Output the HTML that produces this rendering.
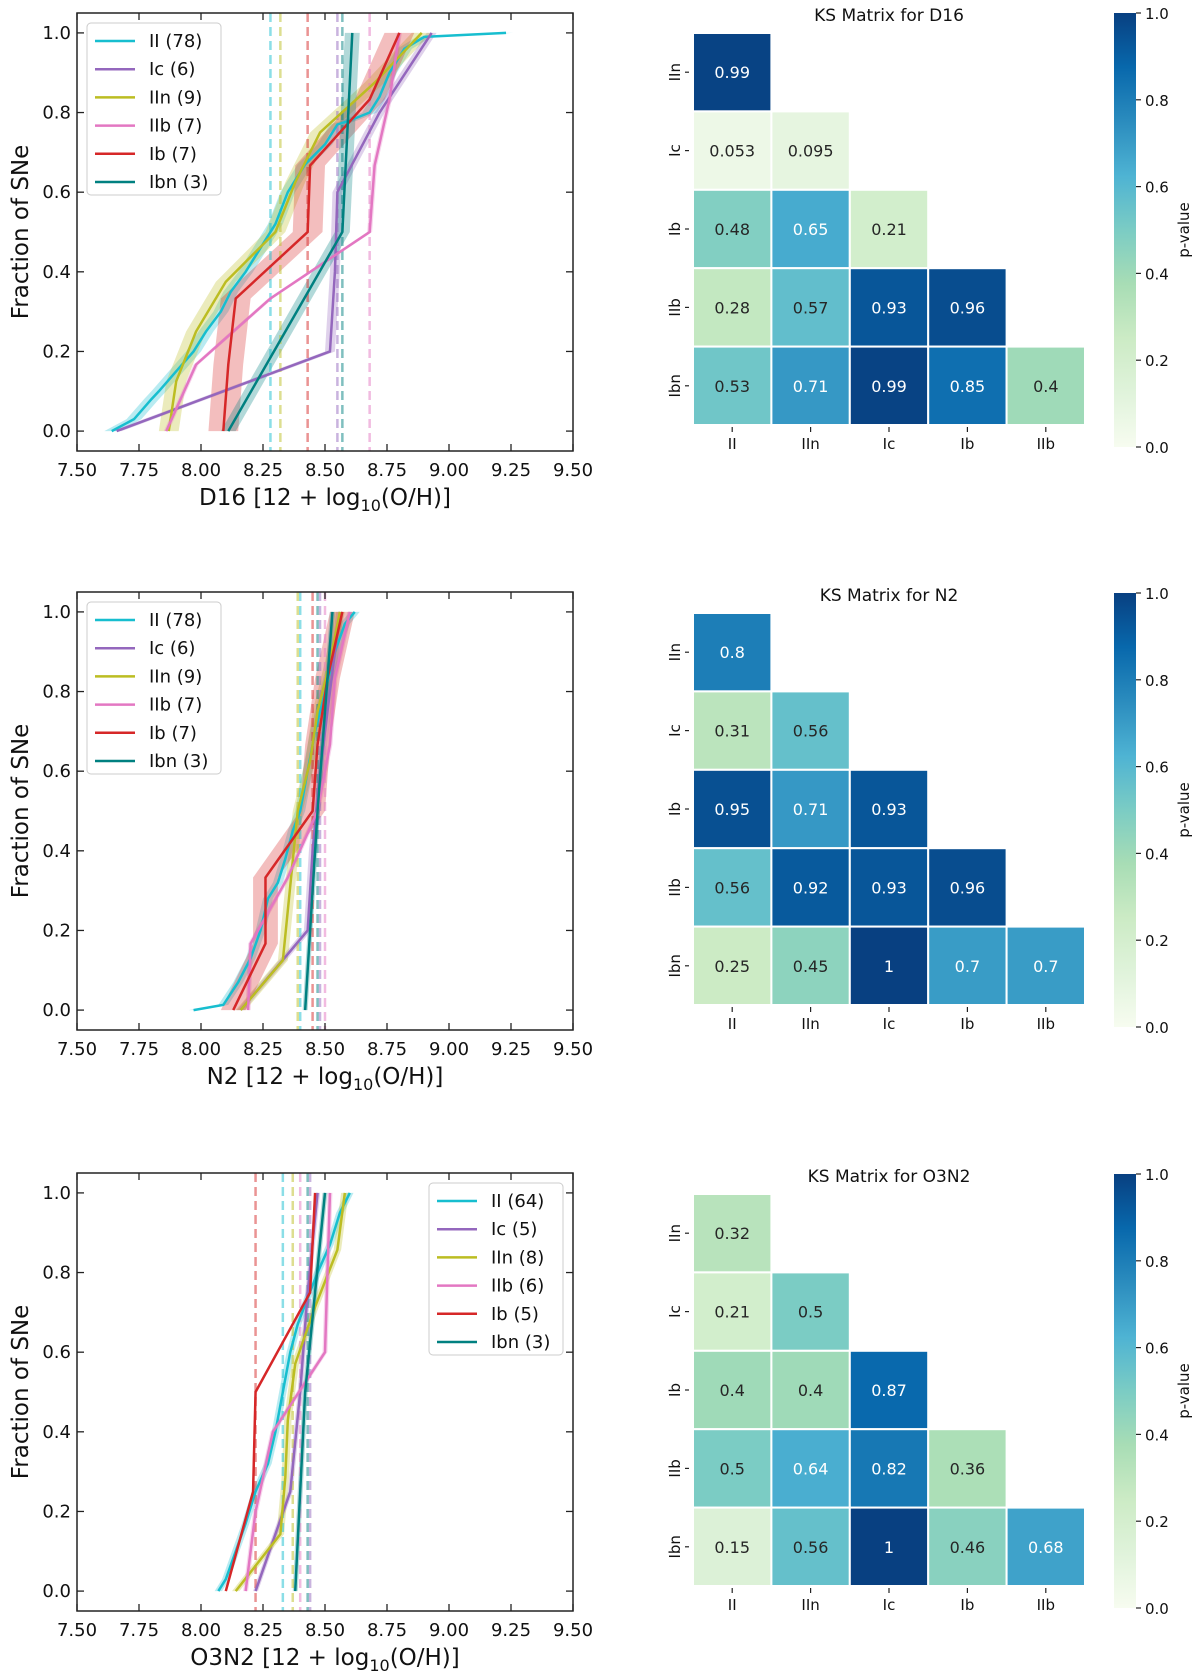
<!DOCTYPE html>
<html><head><meta charset="utf-8">
<style>
html,body{margin:0;padding:0;background:#fff;}
svg{display:block;font-family:"DejaVu Sans","Liberation Sans",sans-serif;}
</style></head>
<body>
<svg id="fig" width="1200" height="1680" viewBox="0 0 1200 1680" xmlns="http://www.w3.org/2000/svg"></svg>
<script>
// ---------- data ----------
const seriesNames = ["II","Ic","IIn","IIb","Ib","Ibn"];
const seriesColors = ["#17becf","#9467bd","#bcbd22","#e377c2","#d62728","#008080"];
const bandD16 = [0.03,0.02,0.04,0.01,0.06,0.03];
const bandN2 = [0.02,0.015,0.02,0.01,0.05,0.01];
const bandO3 = [0.015,0.01,0.015,0.01,0.004,0.01];
const countsD16 = [78,6,9,7,7,3];
const countsN2 = [78,6,9,7,7,3];
const countsO3N2 = [64,5,8,6,5,3];

const d16X = [
 [7.64,7.73,7.80,7.83,7.90,7.97,8.02,8.08,8.12,8.18,8.25,8.30,8.35,8.42,8.50,8.55,8.60,8.68,8.72,8.76,8.82,8.90,9.23],
 [7.66,8.52,8.54,8.55,8.72,8.93],
 [7.87,7.90,7.98,8.10,8.30,8.38,8.48,8.70,8.89],
 [7.86,7.98,8.28,8.68,8.70,8.76,8.80],
 [8.09,8.11,8.14,8.43,8.44,8.68,8.80],
 [8.11,8.57,8.61]];
const d16Y = [
 [0,0.03,0.08,0.10,0.15,0.20,0.25,0.30,0.35,0.40,0.47,0.52,0.60,0.67,0.72,0.77,0.78,0.80,0.84,0.90,0.96,0.99,1.0],
 [0,0.2,0.4,0.6,0.8,1.0],
 [0,0.125,0.25,0.375,0.5,0.625,0.75,0.875,1.0],
 [0,0.167,0.333,0.5,0.667,0.833,1.0],
 [0,0.167,0.333,0.5,0.667,0.833,1.0],
 [0,0.5,1.0]];
const d16Med = [8.28,8.55,8.32,8.68,8.43,8.57];

const n2X = [
 [7.97,8.09,8.15,8.20,8.24,8.27,8.31,8.34,8.37,8.40,8.43,8.46,8.50,8.54,8.58,8.62],
 [8.16,8.43,8.45,8.48,8.52,8.56],
 [8.16,8.33,8.35,8.37,8.39,8.44,8.47,8.52,8.56],
 [8.19,8.20,8.35,8.47,8.52,8.54,8.60],
 [8.13,8.26,8.26,8.45,8.47,8.51,8.57],
 [8.42,8.47,8.53]];
const n2Y = [
 [0,0.013,0.07,0.13,0.20,0.28,0.32,0.38,0.45,0.50,0.60,0.70,0.80,0.90,0.97,1.0],
 [0,0.2,0.4,0.6,0.8,1.0],
 [0,0.125,0.25,0.375,0.5,0.625,0.75,0.875,1.0],
 [0,0.167,0.333,0.5,0.667,0.833,1.0],
 [0,0.167,0.333,0.5,0.667,0.833,1.0],
 [0,0.5,1.0]];
const n2Med = [8.40,8.48,8.39,8.50,8.45,8.47];

const o3X = [
 [8.07,8.10,8.14,8.18,8.22,8.27,8.30,8.33,8.36,8.39,8.42,8.47,8.52,8.56,8.60],
 [8.22,8.36,8.40,8.43,8.47],
 [8.14,8.32,8.34,8.35,8.38,8.46,8.55,8.58],
 [8.18,8.22,8.29,8.50,8.51,8.52],
 [8.10,8.21,8.22,8.44,8.46],
 [8.38,8.42,8.50]];
const o3Y = [
 [0,0.03,0.10,0.17,0.25,0.32,0.40,0.50,0.60,0.67,0.72,0.80,0.87,0.95,1.0],
 [0,0.25,0.5,0.75,1.0],
 [0,0.143,0.286,0.429,0.571,0.714,0.857,1.0],
 [0,0.2,0.4,0.6,0.8,1.0],
 [0,0.25,0.5,0.75,1.0],
 [0,0.5,1.0]];
const o3Med = [8.33,8.44,8.37,8.40,8.22,8.43];

const xTicks = [7.5,7.75,8.0,8.25,8.5,8.75,9.0,9.25,9.5];
const xTickLabels = ["7.50","7.75","8.00","8.25","8.50","8.75","9.00","9.25","9.50"];
const yTicks = [0,0.2,0.4,0.6,0.8,1.0];
const yTickLabels = ["0.0","0.2","0.4","0.6","0.8","1.0"];

const ksRows = ["IIn","Ic","Ib","IIb","Ibn"];
const ksCols = ["II","IIn","Ic","Ib","IIb"];
const ksD16 = [[0.99],[0.053,0.095],[0.48,0.65,0.21],[0.28,0.57,0.93,0.96],[0.53,0.71,0.99,0.85,0.4]];
const ksN2 = [[0.8],[0.31,0.56],[0.95,0.71,0.93],[0.56,0.92,0.93,0.96],[0.25,0.45,1,0.7,0.7]];
const ksO3 = [[0.32],[0.21,0.5],[0.4,0.4,0.87],[0.5,0.64,0.82,0.36],[0.15,0.56,1,0.46,0.68]];
const cbTicks = [0,0.2,0.4,0.6,0.8,1.0];
const cbTickLabels = ["0.0","0.2","0.4","0.6","0.8","1.0"];

// ---------- helpers ----------
const NS = "http://www.w3.org/2000/svg";
const fig = document.getElementById("fig");
function mk(tag, attrs, parent){ const e=document.createElementNS(NS,tag); for(const k in attrs) e.setAttribute(k,attrs[k]); (parent||fig).appendChild(e); return e; }
function txt(s, attrs, parent){ const e=mk("text",attrs,parent); e.textContent=s; return e; }

const gnbu = [[247,252,240],[224,243,219],[204,235,197],[168,221,181],[123,204,196],[78,179,211],[43,140,190],[8,104,172],[8,64,129]];
function cmap(v){ v=Math.max(0,Math.min(1,v)); const p=v*8; const i=Math.min(7,Math.floor(p)); const f=p-i; const a=gnbu[i],b=gnbu[i+1];
 return "rgb("+a.map((c,k)=>Math.round(c+(b[k]-c)*f)).join(",")+")"; }

function ecdfPlot(id, top, xs, ys, meds, counts, bands, xlabel, legendRight){
 const L=77,R=573,T=top,B=top+438;
 const sx=v=>L+(v-7.5)/2*(R-L);
 const sy=v=>B-(v+0.05)/1.1*(B-T);
 const g=mk("g",{});
 
 
 for(let s=0;s<6;s++){
  const w=bands[s]; let pts=[];
  for(let i=0;i<xs[s].length;i++) pts.push(sx(xs[s][i]-w)+","+sy(ys[s][i]));
  for(let i=xs[s].length-1;i>=0;i--) pts.push(sx(xs[s][i]+w)+","+sy(ys[s][i]));
  const b=mk("polygon",{points:pts.join(" "),fill:seriesColors[s],"fill-opacity":0.3,stroke:"none"},g);
  
  
 }
 for(let s=0;s<6;s++){
  const l=mk("line",{x1:sx(meds[s]),x2:sx(meds[s]),y1:T,y2:B,stroke:seriesColors[s],"stroke-width":2.5,"stroke-dasharray":"9,5","stroke-opacity":0.5},g);
  
  
 }
 for(let s=0;s<6;s++){
  const pts=xs[s].map((x,i)=>sx(x)+","+sy(ys[s][i])).join(" ");
  const p=mk("polyline",{points:pts,fill:"none",stroke:seriesColors[s],"stroke-width":2.5},g);
  
  
 }
 mk("rect",{x:L,y:T,width:R-L,height:B-T,fill:"none",stroke:"#222","stroke-width":1.5},g);
 xTicks.forEach((v,i)=>{
  const x=sx(v);
  mk("line",{x1:x,x2:x,y1:B,y2:B-7,stroke:"#222","stroke-width":1.3},g);
  mk("line",{x1:x,x2:x,y1:T,y2:T+7,stroke:"#222","stroke-width":1.3},g);
  const t=txt(xTickLabels[i],{x:x,y:B+25,"font-size":18,"text-anchor":"middle",fill:"#111"},g);
  
  
 });
 yTicks.forEach((v,i)=>{
  const y=sy(v);
  mk("line",{x1:L,x2:L+7,y1:y,y2:y,stroke:"#222","stroke-width":1.3},g);
  mk("line",{x1:R,x2:R-7,y1:y,y2:y,stroke:"#222","stroke-width":1.3},g);
  const t=txt(yTickLabels[i],{x:L-6,y:y+6,"font-size":18,"text-anchor":"end",fill:"#111"},g);
  
  
 });
 const yl=txt("Fraction of SNe",{x:0,y:0,"font-size":23,"text-anchor":"middle",fill:"#111",transform:"translate(28,"+(T+B)/2+") rotate(-90)"},g);
 
 
 const xl=mk("text",{x:(L+R)/2,y:B+54,"font-size":23,"text-anchor":"middle",fill:"#111"},g);
 
 
 xl.innerHTML=xlabel+' [12 + log<tspan font-size="16" dy="6">10</tspan><tspan dy="-6">(O/H)]</tspan>';
 const lx=legendRight?429:87, ly=T+10, lw=134, lh=172;
 const lg=mk("g",{},g);
 
 
 mk("rect",{x:lx,y:ly,width:lw,height:lh,rx:4,fill:"#fff","fill-opacity":0.85,stroke:"#ccc","stroke-width":1},lg);
 for(let s=0;s<6;s++){
  const y=ly+18+s*28.2;
  const e=mk("g",{},lg);
  
  
  mk("line",{x1:lx+8,x2:lx+48,y1:y,y2:y,stroke:seriesColors[s],"stroke-width":2.5},e);
  txt(seriesNames[s]+" ("+counts[s]+")",{x:lx+62,y:y+6,"font-size":18,fill:"#111"},e);
 }
}

function ksPlot(id, top, vals, title){
 const X0=693, C=78.4, Y0=top+20, CB_T=top, CB_B=top+434;
 const g=mk("g",{});
 
 
 const tt=txt(title,{x:X0+2.5*C,y:top+8,"font-size":17,"text-anchor":"middle",fill:"#111"},g);
 
 
 vals.forEach((row,r)=>{
  row.forEach((v,c)=>{
   const cell=mk("rect",{x:X0+c*C,y:Y0+r*C,width:C,height:C,fill:cmap(v),stroke:"#fff","stroke-width":2},g);
   
   
   const t=txt(String(v),{x:X0+c*C+C/2,y:Y0+r*C+C/2+6,"font-size":16,"text-anchor":"middle",fill:v>0.6?"#fff":"#262626"},g);
   
   
  });
 });
 ksRows.forEach((n,r)=>{
  const y=Y0+r*C+C/2;
  mk("line",{x1:X0-8,x2:X0-4,y1:y,y2:y,stroke:"#222","stroke-width":1.2},g);
  const t=txt(n,{x:0,y:0,"font-size":15,"text-anchor":"middle",fill:"#111",transform:"translate("+(X0-13)+","+y+") rotate(-90)"},g);
  
  
 });
 ksCols.forEach((n,c)=>{
  const x=X0+c*C+C/2, y=Y0+5*C;
  mk("line",{x1:x,x2:x,y1:y+2,y2:y+7,stroke:"#222","stroke-width":1.2},g);
  const t=txt(n,{x:x,y:y+24,"font-size":15,"text-anchor":"middle",fill:"#111"},g);
  
  
 });
 const defs=mk("defs",{},g);
 const lgd=mk("linearGradient",{id:"grad-"+id,x1:0,y1:1,x2:0,y2:0},defs);
 for(let i=0;i<=8;i++) mk("stop",{offset:(i/8),"stop-color":cmap(i/8)},lgd);
 const cb=mk("rect",{x:1114,y:CB_T,width:22,height:CB_B-CB_T,fill:"url(#grad-"+id+")"},g);
 
 
 cbTicks.forEach((v,i)=>{
  const y=CB_B-v*(CB_B-CB_T);
  mk("line",{x1:1136,x2:1141,y1:y,y2:y,stroke:"#222","stroke-width":1.2},g);
  const t=txt(cbTickLabels[i],{x:1145,y:y+6,"font-size":15,fill:"#111"},g);
  
  
 });
 const pl=txt("p-value",{x:0,y:0,"font-size":15,"text-anchor":"middle",fill:"#111",transform:"translate(1189,"+(CB_T+CB_B)/2+") rotate(-90)"},g);
 
 
}

ecdfPlot("d16",13,d16X,d16Y,d16Med,countsD16,bandD16,"D16",false);
ecdfPlot("n2",592,n2X,n2Y,n2Med,countsN2,bandN2,"N2",false);
ecdfPlot("o3n2",1173,o3X,o3Y,o3Med,countsO3N2,bandO3,"O3N2",true);
ksPlot("d16",13,ksD16,"KS Matrix for D16");
ksPlot("n2",593,ksN2,"KS Matrix for N2");
ksPlot("o3n2",1174,ksO3,"KS Matrix for O3N2");
</script>
</body></html>
